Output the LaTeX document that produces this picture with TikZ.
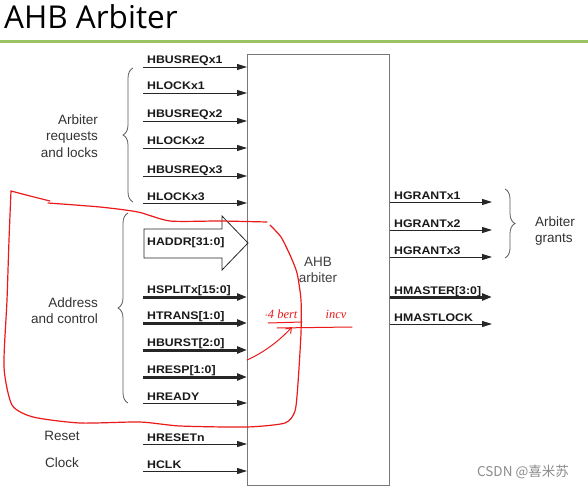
\documentclass[tikz,border=0pt]{standalone}
\usepackage{fontspec}
\setmainfont{Liberation Sans}
\newfontfamily\titlefont{Open Sans}
\newfontfamily\sigfont[FakeStretch=1.12]{Liberation Sans Bold}
\newfontfamily\cjkfont{Noto Sans CJK SC}
\newfontfamily\handfont{Liberation Serif}
\usetikzlibrary{arrows.meta,decorations.pathreplacing}
\definecolor{titlegreen}{RGB}{155,195,100}
\definecolor{inkred}{RGB}{235,25,25}
\definecolor{boxgray}{RGB}{120,120,120}
\begin{document}
\begin{tikzpicture}[x=1pt,y=-1pt,
  sig/.style={line width=0.9pt, draw=black!85, -{Triangle[length=10pt,width=6pt]}},
  bus/.style={line width=3pt, draw=black!85, -{Triangle[length=10pt,width=7pt]}},
  lab/.style={anchor=base west, inner sep=0pt, font=\sigfont\fontsize{11}{13}\selectfont, text=black!90},
  txt/.style={inner sep=0pt, font=\fontsize{13.5}{16.5}\selectfont, text=black!80},
  brc/.style={decorate, decoration={brace, amplitude=10pt}, draw=black!65, line width=0.8pt},
  ink/.style={draw=inkred, line width=1.2pt, line cap=round, line join=round},
  hand/.style={inner sep=0pt, text=inkred, font=\handfont\itshape\fontsize{12.5}{14}\selectfont}
]
\useasboundingbox (0,0) rectangle (588,489);
\fill[white] (0,0) rectangle (588,489);

% title
\node[anchor=base west, inner sep=0pt, font=\titlefont\fontsize{31.5}{36}\selectfont] (title) at (4,29) {AHB Arbiter};
\coordinate (gl) at (0,41.5);
\coordinate (gr) at (588,41.5);
\draw[titlegreen, line width=2.5pt] (gl) -- (gr);

% arbiter box
\node[draw=boxgray, line width=1.4pt, minimum width=142pt, minimum height=431pt, anchor=north west, inner sep=0pt] (box) at (247,54) {};
\node[txt, align=center, text=black!75] (boxlab) at (318,270) {AHB\\arbiter};

% left inputs (thin)
\foreach \y/\t in {67/HBUSREQx1, 93/HLOCKx1, 121/HBUSREQx2, 148/HLOCKx2, 176/HBUSREQx3, 203/HLOCKx3, 403/HREADY, 444/HRESETn, 471/HCLK}{
  \coordinate (in\y) at (143,\y);
  \draw[sig] (in\y) -- (in\y -| box.west);
  \node[lab] (lin\y) at (147,{\y-3}) {\t};
}
% left inputs (bus)
\foreach \y/\t in {297/HSPLITx[15:0], 323/HTRANS[1:0], 350/HBURST[2:0], 377/HRESP[1:0]}{
  \coordinate (in\y) at (143,\y);
  \draw[bus] (in\y) -- (in\y -| box.west);
  \node[lab] (lin\y) at (147,{\y-4}) {\t};
}
% HADDR wide arrow
\draw[line width=0.8pt, draw=black!85, fill=white, line join=miter]
  (144,229) -- (222,229) -- (222,216) -- (248,243) -- (222,270) -- (222,258) -- (144,258) -- cycle;
\node[lab, anchor=west] (haddr) at (147,243) {HADDR[31:0]};

% right outputs
\foreach \y/\t in {202/HGRANTx1, 230/HGRANTx2, 257/HGRANTx3, 324/HMASTLOCK}{
  \coordinate (out\y) at (492,\y);
  \draw[sig] (out\y -| box.east) -- (out\y);
  \node[lab] (lout\y) at (394,{\y-3}) {\t};
}
\coordinate (out297) at (492,297);
\draw[bus] (out297 -| box.east) -- (out297);
\node[lab] (lout297) at (394,294) {HMASTER[3:0]};

% braces
\coordinate (b1a) at (133,202);
\coordinate (b1b) at (133,68);
\draw[brc] (b1a) -- (b1b);
\coordinate (b2a) at (128,403);
\coordinate (b2b) at (128,213);
\draw[brc] (b2a) -- (b2b);
\coordinate (b3a) at (505,189);
\coordinate (b3b) at (505,258);
\draw[brc] (b3a) -- (b3b);

% group labels
\node[txt, align=right, anchor=east] (grp1) at (98,136) {Arbiter\\requests\\and locks};
\node[txt, align=right, anchor=east] (grp2) at (98,310.5) {Address\\and control};
\node[txt] (reset) at (62,436) {Reset};
\node[txt] (clock) at (62,463) {Clock};
\node[txt, align=left, anchor=west] (grants) at (535,231) {Arbiter\\grants};

% red hand annotations
\draw[ink] (50,201) -- (30,196) -- (11,191);
\draw[ink] plot[smooth, tension=0.4] coordinates {(11,191) (9,240) (7,300) (4,367) (12,405) (33,417) (80,423) (140,422) (180,426) (247,427) (285,423) (295,411) (298,383) (301,333) (301,300) (297,273) (290,255) (281,237) (270,225)};
\draw[ink] plot[smooth, tension=0.4] coordinates {(48,203) (100,207) (138,212) (170,221) (220,221) (267,222)};
\node[hand] (n4b) at (281,314) {$\cdot$4 bert};
\node[hand] (incv) at (336,314) {incv};
\coordinate (u1) at (268,323);
\coordinate (u2) at (302,322);
\draw[ink, line width=1pt] (u1) -- (u2);
\coordinate (h1) at (277,328);
\coordinate (h2) at (352,327);
\draw[ink, line width=1pt] (h1) -- (h2);
\coordinate (a1) at (247,360);
\coordinate (a2) at (292,327);
\draw[ink, line width=1pt, -{Straight Barb[length=5pt,width=7pt]}] (a1) .. controls (265,352) and (280,340) .. (a2);

% watermark
\node[inner sep=0pt, text=black!45, font=\cjkfont\fontsize{13.5}{16}\selectfont] (wm) at (523,472) {CSDN @喜米苏};
\end{tikzpicture}
\end{document}
